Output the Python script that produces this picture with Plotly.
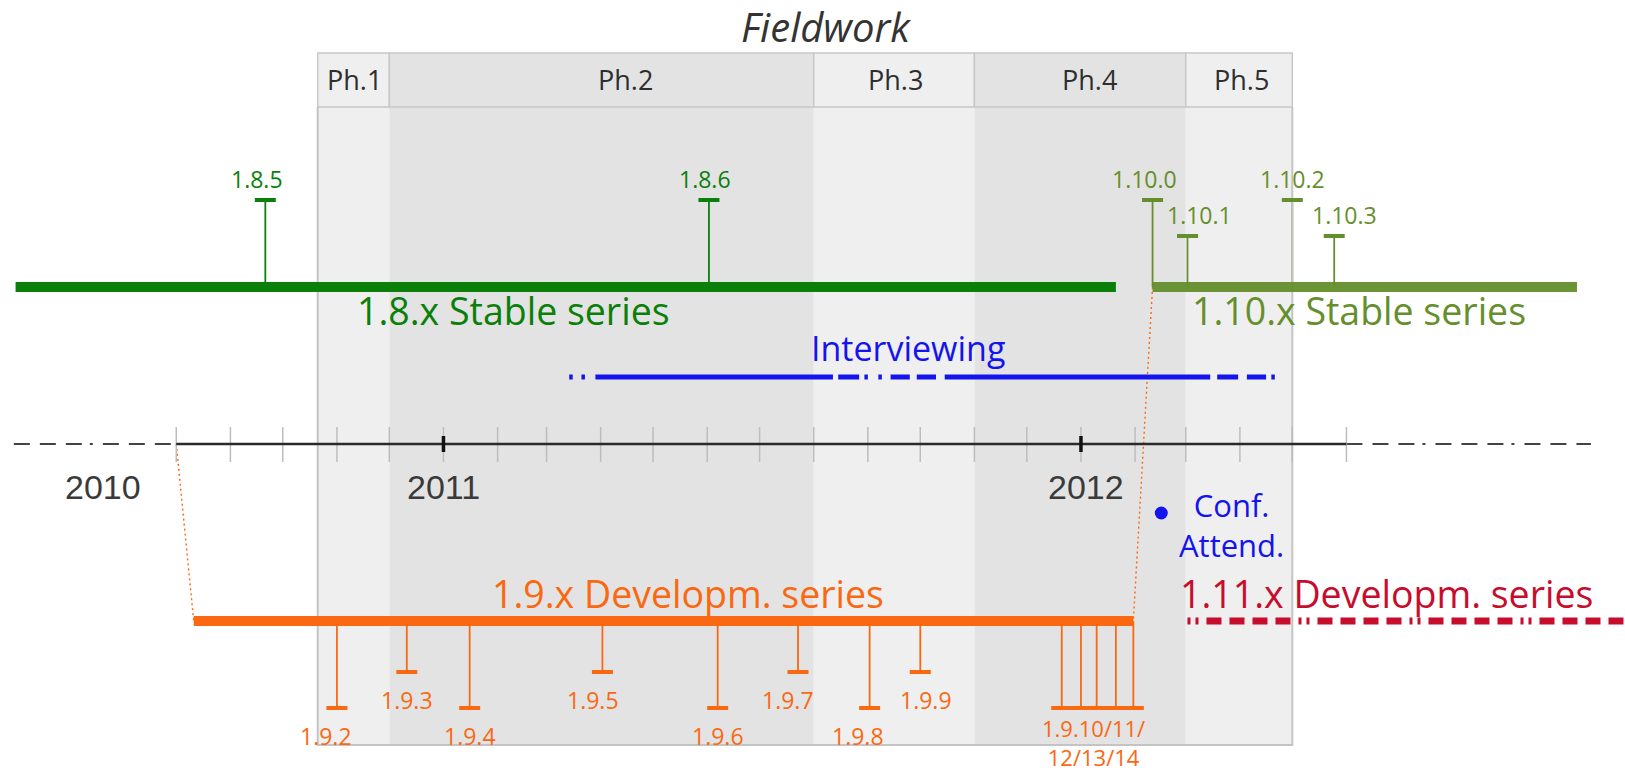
import plotly.graph_objects as go
import pandas as pd

# ---------------- data ----------------
phase_labels = ["Ph.1", "Ph.2", "Ph.3", "Ph.4", "Ph.5"]
phase_starts = ["2010-10-21", "2010-12-01", "2011-08-01", "2011-11-01", "2012-03-01"]
phase_ends = ["2010-12-01", "2011-08-01", "2011-11-01", "2012-03-01", "2012-05-01"]
phase_label_dates = ["2010-11-11", "2011-04-15", "2011-09-17", "2012-01-06", "2012-04-02"]

stable18_span = ["2010-05-01", "2012-01-21"]
stable18_versions = ["1.8.5", "1.8.6"]
stable18_dates = ["2010-09-21", "2011-06-02"]

stable110_span = ["2012-02-11", "2012-10-11"]
stable110_versions = ["1.10.0", "1.10.1", "1.10.2", "1.10.3"]
stable110_dates = ["2012-02-11", "2012-03-02", "2012-05-01", "2012-05-25"]

dev19_span = ["2010-08-11", "2012-01-31"]
dev19_versions = ["1.9.2", "1.9.3", "1.9.4", "1.9.5", "1.9.6", "1.9.7", "1.9.8", "1.9.9",
                  "1.9.10", "1.9.11", "1.9.12", "1.9.13", "1.9.14"]
dev19_dates = ["2010-11-01", "2010-12-11", "2011-01-16", "2011-04-02", "2011-06-07", "2011-07-23",
               "2011-09-02", "2011-10-01", "2011-12-21", "2012-01-01", "2012-01-10", "2012-01-21",
               "2012-01-31"]
dev19_group_label = "1.9.10/11/<br>12/13/14"
dev19_group_date = "2012-01-08"

dev111_span = ["2012-03-02", "2012-11-07"]

interview_starts = ["2011-03-14", "2011-03-21", "2011-03-29", "2011-08-15", "2011-08-30", "2011-09-07",
                    "2011-09-14", "2011-09-29", "2011-10-15", "2012-03-19", "2012-04-05", "2012-04-19"]
interview_ends = ["2011-03-16", "2011-03-23", "2011-08-12", "2011-08-27", "2011-09-01", "2011-09-09",
                  "2011-09-25", "2011-10-10", "2012-03-15", "2012-03-31", "2012-04-16", "2012-04-21"]

conference_dates = ["2012-02-16"]
conference_label = "Conf.<br>Attend."
conference_label_date = "2012-03-27"

timeline_span = ["2010-08-01", "2012-06-01"]
timeline_ext_left = ["2010-04-30", "2010-08-01"]
timeline_ext_right = ["2012-06-01", "2012-10-19"]
year_tick_dates = ["2011-01-01", "2012-01-01"]
year_labels = ["2010", "2011", "2012"]
year_label_dates = ["2010-06-20", "2011-01-01", "2012-01-04"]

series_labels = ["1.8.x Stable series", "1.10.x Stable series", "1.9.x Developm. series",
                 "1.11.x Developm. series", "Interviewing"]
series_label_dates = ["2011-02-10", "2012-06-08", "2011-05-21", "2012-06-24", "2011-09-24"]

# ---------------- styles / layout constants ----------------
W, H = 1625, 773
X_RANGE = ["2010-04-22 02:00", "2012-11-07 12:00"]
FONT = "Open Sans"
GREEN = "#0a7f0a"
OLIVE = "#648f2c"
ORANGE = "#fa6812"
CRIMSON = "#c80c2c"
BLUE = "#1414ee"
DARK = "#333333"
GRID = "#c4c4c4"
PHASE_FILLS = ["#efefef", "#e3e3e3", "#efefef", "#e3e3e3", "#efefef"]

Y_HEAD_TOP, Y_HEAD_BOT, Y_BOX_BOT = 53, 107, 745
Y_STABLE, Y_INTERVIEW, Y_AXIS, Y_DEV, Y_CONF = 287, 377, 444, 621, 513
STABLE_TIPS = {"long": 200, "short": 236}
DEV_TIPS = {"long": 708, "short": 672}
stable18_tiers = ["long", "long"]
stable110_tiers = ["long", "short", "long", "short"]
dev19_tiers = ["long", "short", "long", "short", "long", "short", "long", "short",
               "long", "long", "long", "long", "long"]
label_nudge = {"1.8.5": -8, "1.8.6": -4, "1.10.0": -8, "1.10.1": 12, "1.10.3": 10,
               "1.9.2": -11, "1.9.5": -9, "1.9.7": -10, "1.9.8": -12, "1.9.9": 6}

fig = go.Figure()
annotations = []
shapes = []


def seg_trace(x0s, x1s, y0s, y1s, color, width, dash="solid", opacity=1.0):
    xs, ys = [], []
    for a, b, c, d in zip(x0s, x1s, y0s, y1s):
        xs += [a, b, None]
        ys += [c, d, None]
    fig.add_trace(go.Scatter(x=xs, y=ys, mode="lines", opacity=opacity,
                             line=dict(color=color, width=width, dash=dash),
                             hoverinfo="skip", showlegend=False))


def text(x, y, s, size, color, family=FONT, xshift=0, weight="normal"):
    annotations.append(dict(x=x, y=y, xref="x", yref="y", text=s, showarrow=False,
                            xanchor="center", yanchor="middle", xshift=xshift,
                            font=dict(family=family, size=size, color=color, weight=weight)))


# ---- fieldwork phases (background) ----
for lab, s, e, ld, fc in zip(phase_labels, phase_starts, phase_ends, phase_label_dates, PHASE_FILLS):
    shapes.append(dict(type="rect", xref="x", yref="y", x0=s, x1=e, y0=Y_HEAD_BOT, y1=Y_BOX_BOT,
                       fillcolor=fc, line=dict(width=0), layer="below"))
    shapes.append(dict(type="rect", xref="x", yref="y", x0=s, x1=e, y0=Y_HEAD_TOP, y1=Y_HEAD_BOT,
                       fillcolor=fc, line=dict(width=1.5, color="#c8c8c8"), layer="below"))
    text(ld, 79, lab, 27, "#2e2e2e", weight=500)
text("2011-08-08", 26, "<i>Fieldwork</i>", 40, DARK)

# ---- release stems ----
def stems(dates, tiers, base, tips, color):
    seg_trace(dates, dates, [base] * len(dates), [tips[t] for t in tiers], color, 1.8)

stems(stable18_dates, stable18_tiers, Y_STABLE, STABLE_TIPS, GREEN)
stems(stable110_dates, stable110_tiers, Y_STABLE, STABLE_TIPS, OLIVE)
stems(dev19_dates, dev19_tiers, Y_DEV, DEV_TIPS, ORANGE)

# ---- fieldwork outer border (drawn over the stems, as in the reference) ----
b0, b1 = phase_starts[0], phase_ends[-1]
fig.add_trace(go.Scatter(x=[b0, b0, b1, b1], y=[Y_HEAD_BOT, Y_BOX_BOT, Y_BOX_BOT, Y_HEAD_BOT],
                         mode="lines", line=dict(color=GRID, width=2),
                         hoverinfo="skip", showlegend=False))

# ---- connectors (dotted) ----
seg_trace([timeline_span[0], stable110_span[0]], [dev19_span[0], dev19_span[1]],
          [Y_AXIS, Y_STABLE], [Y_DEV, Y_DEV], ORANGE, 1.4, dash="2px,3px")

# ---- series bars ----
seg_trace([stable18_span[0]], [stable18_span[1]], [Y_STABLE], [Y_STABLE], GREEN, 10)
seg_trace([stable110_span[0]], [stable110_span[1]], [Y_STABLE], [Y_STABLE], OLIVE, 10, opacity=0.95)
seg_trace([dev19_span[0]], [dev19_span[1]], [Y_DEV], [Y_DEV], ORANGE, 10)
seg_trace([dev111_span[0]], [dev111_span[1]], [Y_DEV], [Y_DEV], CRIMSON, 7,
          dash="3px,5px,3px,8px,15px,8px,15px,8px,15px,8px,15px,8px")

# ---- caps ----
def caps(dates, tiers, tips, color):
    fig.add_trace(go.Scatter(x=dates, y=[tips[t] for t in tiers], mode="markers",
                             marker=dict(symbol="line-ew", size=15, line=dict(width=4, color=color)),
                             hoverinfo="skip", showlegend=False))

caps(stable18_dates, stable18_tiers, STABLE_TIPS, GREEN)
caps(stable110_dates, stable110_tiers, STABLE_TIPS, OLIVE)
caps(dev19_dates, dev19_tiers, DEV_TIPS, ORANGE)

# ---- version labels ----
for v, d, t in zip(stable18_versions, stable18_dates, stable18_tiers):
    text(d, STABLE_TIPS[t] - 21, v, 23, GREEN, xshift=label_nudge.get(v, 0))
for v, d, t in zip(stable110_versions, stable110_dates, stable110_tiers):
    text(d, STABLE_TIPS[t] - 21, v, 23, OLIVE, xshift=label_nudge.get(v, 0))
for v, d, t in zip(dev19_versions[:8], dev19_dates[:8], dev19_tiers[:8]):
    text(d, DEV_TIPS[t] + 28, v, 23, ORANGE, xshift=label_nudge.get(v, 0))
text(dev19_group_date, 742, dev19_group_label, 22, ORANGE)

# ---- timeline ----
seg_trace([timeline_ext_left[0], timeline_ext_right[0]], [timeline_ext_left[1], timeline_ext_right[1]],
          [Y_AXIS, Y_AXIS], [Y_AXIS, Y_AXIS], "#444444", 2,
          dash="16px,10px,16px,10px,16px,8px,3px,10px")
months = pd.date_range(timeline_span[0], timeline_span[1], freq="MS").strftime("%Y-%m-%d").tolist()
seg_trace(months, months, [Y_AXIS - 17] * len(months), [Y_AXIS + 18] * len(months), "#bdbdbd", 1.5)
seg_trace([timeline_span[0]], [timeline_span[1]], [Y_AXIS], [Y_AXIS], "#2a2a2a", 2.5)
seg_trace(year_tick_dates, year_tick_dates, [Y_AXIS - 8] * 2, [Y_AXIS + 8] * 2, "#111111", 3.5)
for lab, d in zip(year_labels, year_label_dates):
    text(d, 487, lab, 34, "#3a3a3a", family="Liberation Sans")

# ---- interviewing ----
seg_trace(interview_starts, interview_ends, [Y_INTERVIEW] * len(interview_starts),
          [Y_INTERVIEW] * len(interview_starts), BLUE, 5)

# ---- conference attendance ----
fig.add_trace(go.Scatter(x=conference_dates, y=[Y_CONF], mode="markers",
                         marker=dict(size=13, color=BLUE), hoverinfo="skip", showlegend=False))
text(conference_label_date, 525, conference_label, 31, BLUE)

# ---- series labels ----
label_colors = [GREEN, OLIVE, ORANGE, CRIMSON, BLUE]
label_ys = [310, 310, 593, 593, 348]
label_sizes = [37.5, 37.5, 37.5, 37.5, 34]
for lab, d, c, y, s in zip(series_labels, series_label_dates, label_colors, label_ys, label_sizes):
    text(d, y, lab, s, c)

fig.update_layout(
    width=W, height=H, margin=dict(l=0, r=0, t=0, b=0),
    paper_bgcolor="white", plot_bgcolor="white",
    xaxis=dict(type="date", range=X_RANGE, visible=False, fixedrange=True),
    yaxis=dict(range=[H, 0], visible=False, fixedrange=True),
    shapes=shapes, annotations=annotations, showlegend=False,
    font=dict(family=FONT),
)

fig.write_html("out.html", config={"displayModeBar": False},
               post_script="document.body.style.margin='0';document.body.style.overflow='hidden';")
